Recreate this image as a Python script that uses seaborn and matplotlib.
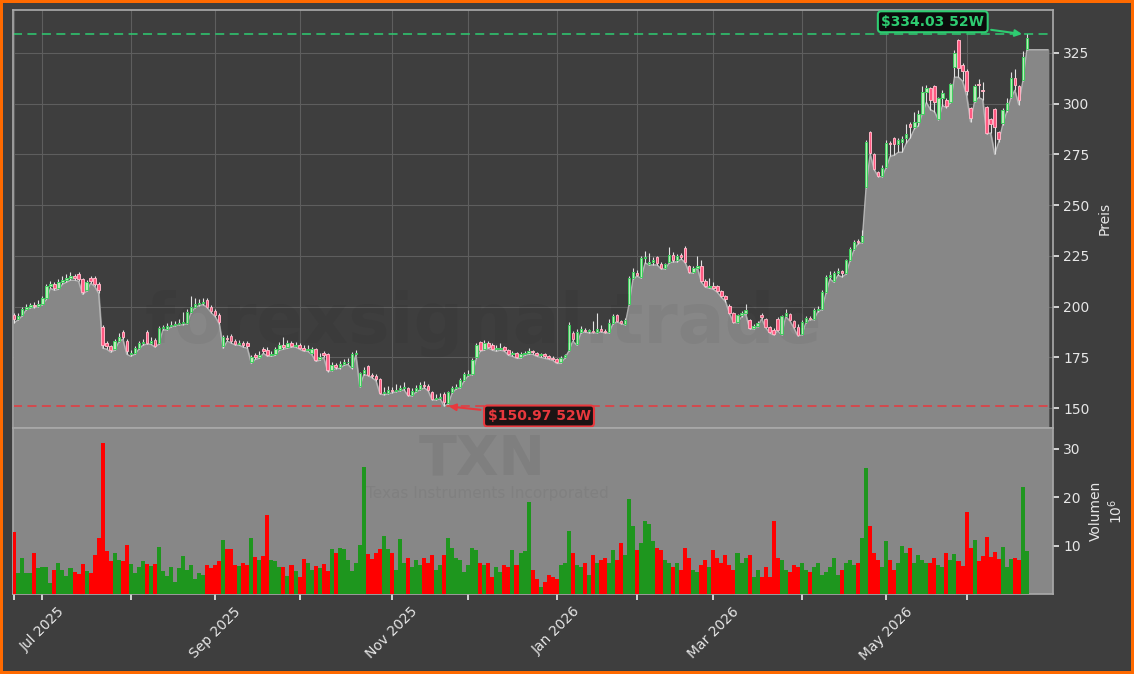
import numpy as np
import pandas as pd
import matplotlib
matplotlib.use("Agg")
import matplotlib.pyplot as plt
import seaborn as sns

# Kursdaten TXN (tägliche Kerzen, ca. 52 Wochen), Volumen in Mio.
opens = [
    196, 194, 196, 199, 200, 201, 200.5, 201.5, 204, 210,
    211, 209, 212, 213, 214, 215, 216, 213.5, 208, 214,
    214, 211, 190, 182, 180.5, 179, 183, 187.5, 183, 176.5,
    177, 179.5, 182, 187.5, 182, 183.5, 182, 189.5, 189, 190.5,
    191, 191.5, 192, 192, 197.5, 200, 201.5, 202, 203, 200,
    198, 196, 180.5, 184.5, 185.5, 183, 181.5, 182, 182, 172.5,
    176, 175, 179, 178.5, 176, 176.5, 179, 181, 180, 182,
    180.5, 181, 179.5, 178.5, 177, 179, 174, 177, 176.5, 169,
    171, 170, 171.5, 172.5, 170, 176.5, 161, 167.5, 170.5, 166.5,
    166, 164.5, 157.5, 157.5, 159, 158.5, 159, 160, 160, 156.5,
    158.5, 159.5, 161.5, 161, 158, 154.5, 155, 157, 152.5, 158,
    160, 160.5, 164, 166.5, 167, 175, 182.5, 179, 182, 181,
    179, 179, 180, 178.5, 176.5, 177, 175, 176.5, 177, 178,
    177, 176, 176.5, 175.5, 174.5, 174, 172.5, 175, 178.5, 187,
    181.5, 187.5, 188.5, 188, 188, 187.5, 189, 188, 187.5, 192,
    196, 193, 191.5, 201.5, 214, 216.5, 214.5, 224, 221, 222,
    224.5, 221, 219, 222, 225.5, 223, 225.5, 229, 220, 217,
    219, 220, 212.5, 209.5, 210, 210, 207.5, 205, 200.5, 197,
    192.5, 196, 197, 193.5, 189.5, 190.5, 196, 194, 190, 188.5,
    194, 186.5, 195.5, 196.5, 193, 190, 186.5, 192.5, 194.5, 194,
    198.5, 199, 207, 214.5, 212.5, 216.5, 217.5, 216.5, 223, 228.5,
    232.5, 232, 259, 286, 275, 266.5, 264.5, 269, 280.5, 283,
    280, 281, 283, 290, 288.5, 291, 295, 305.5, 307.5, 308.5,
    292.5, 302.5, 302, 301, 318, 331.5, 319, 316, 298, 301.5,
    309.5, 306.5, 298.5, 292.5, 297.5, 286, 290.5, 297, 303, 312.5,
    308.5, 311.5, 327,
]
closes = [
    194, 195.5, 199, 200, 201, 200.5, 201.5, 204, 210, 211,
    209, 212, 213, 214, 215, 214, 213.5, 207, 212, 212.5,
    211, 208, 181, 180.5, 178.5, 183, 185, 185, 178, 177,
    179.5, 182, 182.5, 182, 183, 180.5, 189.5, 189.5, 190.5, 191,
    191.5, 192, 192, 197.5, 200, 201.5, 202, 202, 200, 198,
    196, 192.5, 185, 184, 183, 181.5, 182, 181, 180.5, 175,
    175, 176, 178, 176, 176.5, 179, 181, 180, 182, 180.5,
    181, 179.5, 178.5, 179, 179, 173.5, 175, 176, 169, 171,
    170, 171.5, 172.5, 172.5, 176.5, 177, 167.5, 169, 166.5, 166,
    164.5, 157.5, 157.5, 159, 158.5, 159, 160, 160, 156.5, 158.5,
    160, 161.5, 161, 159, 154.5, 155, 155.5, 153, 158, 160,
    160.5, 164, 167, 167, 173.5, 181, 178.5, 182, 180, 179,
    179, 179.5, 178.5, 176.5, 176.5, 175, 176.5, 177, 178, 177.5,
    176, 176, 175.5, 174.5, 174, 172.5, 174.5, 176, 191, 184,
    187.5, 189, 188, 188, 187.5, 189, 188, 187.5, 192, 195.5,
    193, 192, 193.5, 214, 217, 215.5, 224, 224, 222, 223,
    221.5, 219, 221, 225.5, 223, 225, 224.5, 222, 217, 219,
    220, 212.5, 210, 210, 209, 207.5, 205, 203.5, 197, 192.5,
    196, 197, 198.5, 189.5, 190.5, 192, 195, 190, 187.5, 186.5,
    188.5, 195.5, 197, 193.5, 190, 186, 192.5, 194.5, 194, 198.5,
    199, 207, 214.5, 215.5, 216.5, 217.5, 216.5, 223, 228.5, 232,
    232, 235, 281, 275.5, 268, 264.5, 268.5, 280.5, 280, 280,
    282, 282.5, 285, 288.5, 291, 295, 305.5, 307.5, 302, 301,
    302.5, 305, 299, 309.5, 325, 317.5, 316, 306, 293, 308.5,
    309, 306, 285.5, 290, 288.5, 282.5, 297, 300.5, 312.5, 309,
    302, 323, 332.5,
]
highs = [
    197, 197, 200, 201.5, 202, 202.5, 203, 205, 211, 212.5,
    212, 213.5, 215, 216, 217, 216, 217, 214, 213, 215,
    215, 212, 191, 183, 181, 184, 187, 188.5, 184, 178.5,
    180.5, 183, 184, 188.5, 185, 184.5, 190.5, 191, 192, 193,
    193, 194, 197.5, 199, 205, 204, 203.5, 204, 204, 201,
    199, 197, 186, 186, 186.5, 184, 183.5, 183, 183, 176,
    177, 178, 180, 180, 178, 180, 182.5, 185, 183.5, 183,
    182.5, 182, 181, 181, 180, 179.5, 177, 178, 177, 172.5,
    172, 173, 174, 174.5, 177.5, 178.5, 168, 170, 171, 167.5,
    167, 165, 160.5, 161, 160.5, 162, 161.5, 163, 160.5, 160,
    161.5, 163, 163.5, 162, 158.5, 157, 157.5, 158, 158.5, 161,
    162, 165, 168, 169, 174.5, 182, 183, 183.5, 183, 182,
    181, 182, 180.5, 179, 178, 177.5, 177.5, 178, 179.5, 178.5,
    177.5, 177, 177, 176, 175.5, 174.5, 175.5, 176.5, 192.5, 188,
    189, 190.5, 189.5, 189, 193, 197, 191, 189, 194, 196.5,
    196.5, 193.5, 194.5, 215, 219, 218, 225, 227.5, 226.5, 224.5,
    225, 222, 221.5, 229.5, 227, 226, 226.5, 230, 220.5, 220,
    225, 223, 213.5, 214, 212, 210.5, 208, 205.5, 201.5, 197.5,
    196.5, 198, 201.5, 194, 191.5, 193, 197, 194.5, 190.5, 189.5,
    195, 196, 199, 197, 193.5, 191.5, 193.5, 195.5, 195.5, 199.5,
    200.5, 208, 215.5, 217.5, 217.5, 219, 218, 223.5, 229.5, 233,
    233.5, 237.5, 282, 286.5, 275.5, 267, 269.5, 282, 281.5, 283.5,
    283, 284, 290, 291, 296, 297, 308.5, 309, 308, 309,
    303, 306.5, 302.5, 310, 326.5, 332, 320, 317, 298.5, 309.5,
    312, 310.5, 299, 293, 298, 286.5, 298, 302.5, 315.5, 317,
    309, 326, 334.03,
]
lows = [
    192, 193.5, 195.5, 198.5, 199.5, 199.5, 200, 201, 203.5, 209,
    208, 208.5, 211, 212, 213, 213, 212.5, 206, 207.5, 211.5,
    210, 206.5, 179.5, 179, 177.5, 178.5, 182.5, 184, 176.5, 175.5,
    176.5, 179, 181, 181.5, 181.5, 180, 181.5, 188.5, 188.5, 190,
    190.5, 191, 191, 191.5, 197, 199.5, 200.5, 201, 199.5, 197,
    195, 191.5, 179.5, 183, 182, 181, 181, 180, 179.5, 172,
    174, 174.5, 177, 175.5, 175.5, 176, 178.5, 179, 179.5, 180,
    180, 179, 178, 178, 176.5, 173, 173.5, 175, 168, 168.5,
    169.5, 169.5, 171, 171.5, 169.5, 176, 160.5, 166.5, 166, 165,
    163.5, 157, 156.5, 157, 157.5, 158, 158.5, 159, 156, 156,
    158, 159, 160, 158.5, 154, 154, 154.5, 150.97, 152, 157.5,
    159.5, 160, 163.5, 166, 166.5, 174.5, 178, 178.5, 179.5, 178.5,
    178, 178.5, 178, 176, 175.5, 174.5, 174.5, 176, 176.5, 176.5,
    175.5, 175, 174.5, 174, 173.5, 172, 172, 174.5, 178, 183,
    181, 187, 187.5, 187, 187, 187, 187.5, 187, 187, 191.5,
    192.5, 191.5, 191, 201, 213.5, 215, 214, 221.5, 220.5, 220.5,
    220.5, 218.5, 218.5, 221.5, 222, 222, 223.5, 221.5, 216.5, 216.5,
    219, 212, 209.5, 209, 208.5, 207, 204.5, 202.5, 196.5, 192,
    192, 195, 196.5, 189, 189, 190, 194, 189.5, 187, 186,
    188, 186, 195, 193, 189.5, 185.5, 186, 192, 193.5, 193.5,
    197.5, 198.5, 206.5, 213.5, 212, 215.5, 214.5, 216, 222.5, 228,
    231, 231.5, 258.5, 275, 267.5, 264, 264, 268.5, 274, 274.5,
    276, 276, 280.5, 283, 287.5, 289, 295, 300.5, 297, 296,
    292, 299, 298, 300.5, 313, 313, 311, 304, 291, 301,
    303, 302, 285, 285.5, 275, 281, 289.5, 296, 302.5, 306.5,
    299.5, 311, 326.5,
]
volumes = [
    12.8, 4.3, 7.4, 4.4, 4.3, 8.4, 5.3, 5.6, 5.5, 2.3,
    5.0, 6.5, 5.0, 3.8, 5.3, 4.6, 4.2, 6.2, 4.8, 4.4,
    8.0, 11.5, 31.2, 8.9, 6.8, 8.4, 7.0, 6.8, 10.1, 6.3,
    4.3, 5.5, 6.8, 6.3, 5.8, 6.2, 9.8, 4.8, 3.8, 5.5,
    2.4, 5.3, 7.8, 5.0, 6.0, 3.0, 4.4, 4.0, 6.0, 5.3,
    6.0, 6.8, 11.1, 9.2, 9.4, 6.0, 5.8, 6.4, 6.0, 11.5,
    7.7, 7.0, 7.8, 16.3, 7.0, 6.8, 5.5, 5.5, 3.8, 6.0,
    4.8, 3.6, 7.3, 6.5, 5.0, 5.8, 5.3, 6.2, 4.8, 9.4,
    8.4, 9.6, 9.2, 7.0, 4.8, 6.4, 10.1, 26.2, 8.2, 7.3,
    8.4, 9.4, 12.0, 9.2, 8.4, 5.0, 11.3, 6.5, 7.5, 5.5,
    7.0, 6.0, 7.5, 6.5, 8.0, 5.0, 6.0, 8.0, 11.5, 9.5,
    7.5, 7.0, 4.5, 6.0, 9.5, 9.0, 6.5, 6.0, 6.5, 3.5,
    5.5, 4.5, 6.0, 5.5, 9.0, 6.0, 8.5, 8.8, 19.0, 5.0,
    3.0, 1.5, 2.5, 4.0, 3.5, 3.0, 6.0, 6.5, 13.0, 8.5,
    6.0, 5.5, 6.5, 4.0, 8.0, 6.5, 7.0, 7.5, 6.5, 9.0,
    7.0, 10.5, 8.0, 19.7, 14.0, 9.0, 10.5, 15.0, 14.5, 11.0,
    9.5, 9.0, 7.0, 6.5, 5.5, 6.5, 5.0, 9.5, 7.5, 5.0,
    4.5, 6.0, 7.0, 5.5, 9.0, 7.5, 6.5, 8.0, 6.0, 5.0,
    8.5, 6.5, 7.5, 8.0, 3.5, 5.0, 3.5, 5.5, 3.5, 15.0,
    7.5, 7.0, 5.0, 4.5, 6.0, 5.5, 6.5, 5.0, 4.5, 5.5,
    6.5, 4.0, 4.5, 5.5, 7.5, 4.0, 5.0, 6.5, 7.0, 6.0,
    6.5, 11.5, 26.0, 14.0, 8.5, 7.0, 5.5, 11.0, 7.0, 5.0,
    6.5, 10.0, 8.5, 9.5, 6.5, 8.0, 7.0, 6.5, 6.5, 7.5,
    6.0, 5.5, 8.5, 7.0, 8.2, 6.9, 5.8, 16.9, 9.5, 11.1,
    6.9, 7.8, 11.8, 7.7, 8.7, 7.3, 9.7, 5.5, 7.3, 7.4,
    7.0, 22.1, 8.9,
]
high_52w = 334.03
low_52w = 150.97
ticker = "TXN"
company = "Texas Instruments Incorporated"

# Handelstage (NYSE-Feiertage ausgenommen)
holidays = ["2025-07-04", "2025-09-01", "2025-11-27", "2025-12-25", "2026-01-01",
            "2026-01-19", "2026-02-16", "2026-04-03", "2026-05-25", "2026-06-19"]
n = len(closes)
dates = pd.bdate_range("2025-06-20", periods=n, freq="C", holidays=holidays)

df = pd.DataFrame({"Open": opens, "High": highs, "Low": lows, "Close": closes,
                   "Volume": volumes}, index=dates)
df["idx"] = np.arange(n)
df["Richtung"] = np.where(df["Close"] >= df["Open"], "up", "down")

bg = "#3e3e3e"
txt = "#e6e6e6"
sns.set_theme(style="dark", rc={
    "figure.facecolor": bg, "axes.facecolor": bg, "axes.edgecolor": "#a8a8a8",
    "grid.color": "#5e5e5e", "text.color": txt, "xtick.color": txt,
    "ytick.color": txt, "axes.labelcolor": txt,
})
plt.rcParams["font.family"] = ["DejaVu Sans"]

fig = plt.figure(figsize=(11.34, 6.74), dpi=100)
fig.patch.set_edgecolor("#ff6a00")
fig.patch.set_linewidth(4)
ax = fig.add_axes([0.0115, 0.365, 0.917, 0.6205])
axv = fig.add_axes([0.0115, 0.1187, 0.917, 0.2463], sharex=ax)

x_end = n + 5.5

# Fläche unter den Tiefs
x_fill = np.r_[df["idx"].values, n + 4.3]
y_fill = np.r_[df["Low"].values, df["Low"].values[-1]]
ax.fill_between(x_fill, y_fill, 0, color="#878787", zorder=1)
sns.lineplot(x=x_fill, y=y_fill, ax=ax, color="#b4b4b4", lw=1, zorder=2)

# Kerzen
up = df[df["Richtung"] == "up"]
dn = df[df["Richtung"] == "down"]
ax.vlines(df["idx"], df["Low"], df["High"], color="#e2e2e2", lw=0.8, zorder=3)
ax.bar(up["idx"], (up["Close"] - up["Open"]).clip(lower=0.4), bottom=up["Open"],
       width=0.6, color="#b8ecb8", edgecolor="#3fcf5f", lw=0.7, zorder=4)
ax.bar(dn["idx"], dn["Open"] - dn["Close"], bottom=dn["Close"],
       width=0.6, color="#ff5a82", edgecolor="#ffb3c4", lw=0.7, zorder=4)

# 52-Wochen-Linien und Beschriftungen
green = "#2ecc71"
red = "#e8383d"
ax.axhline(high_52w, color=green, ls=(0, (5, 3)), lw=1.3, alpha=0.85, zorder=2)
ax.axhline(low_52w, color=red, ls=(0, (5, 3)), lw=1.3, alpha=0.85, zorder=2)
i_hi = int(np.argmax(df["High"].values))
i_lo = int(np.argmin(df["Low"].values))
ax.annotate(f"${high_52w:.2f} 52W", xy=(i_hi - 0.5, high_52w), xytext=(228.6, 340.3),
            ha="center", va="center", color=green, fontsize=10, fontweight="bold",
            bbox=dict(boxstyle="round,pad=0.25", fc="#0c0c0c", ec=green, lw=1.5),
            arrowprops=dict(arrowstyle="-|>", color=green, lw=1.5, mutation_scale=10),
            zorder=6)
ax.annotate(f"${low_52w:.2f} 52W", xy=(i_lo + 0.5, low_52w), xytext=(130.6, 146.1),
            ha="center", va="center", color=red, fontsize=10, fontweight="bold",
            bbox=dict(boxstyle="round,pad=0.25", fc="#1c1414", ec=red, lw=1.5),
            arrowprops=dict(arrowstyle="-|>", color=red, lw=1.5, mutation_scale=10),
            zorder=6)

# Volumen
axv.set_facecolor("#878787")
sns.barplot(x=df["idx"], y=df["Volume"], hue=df["Richtung"], ax=axv,
            palette={"up": "#1e961e", "down": "#ff0000"}, hue_order=["up", "down"],
            native_scale=True, dodge=False, width=1.0, linewidth=0, legend=False,
            saturation=1, zorder=3)

# Achsen
month_start = df.groupby([df.index.year, df.index.month])["idx"].min().values
month_dates = df.index[month_start]
labels = [d.strftime("%b %Y") if d.month % 2 == 1 else "" for d in month_dates]

ax.set_xlim(-0.3, x_end)
ax.set_ylim(140.2, 346.2)
ax.set_yticks([150, 175, 200, 225, 250, 275, 300, 325])
ax.yaxis.tick_right()
ax.yaxis.set_label_position("right")
ax.set_ylabel("Preis", fontsize=10, labelpad=6)
ax.set_xticks(month_start)
ax.tick_params(axis="x", length=0, labelbottom=False)
ax.tick_params(axis="y", length=4, labelsize=10, direction="out")
ax.grid(True, color="#5e5e5e", lw=0.8)
ax.set_xlabel("")

axv.set_ylim(0, 34.3)
axv.set_yticks([10, 20, 30])
axv.yaxis.tick_right()
axv.yaxis.set_label_position("right")
axv.set_ylabel("Volumen\n$10^6$", fontsize=10, labelpad=6)
axv.set_xticks(month_start)
axv.set_xticklabels(labels, rotation=45, ha="center", fontsize=10)
axv.tick_params(axis="x", length=4, direction="out", bottom=True)
axv.tick_params(axis="y", length=4, labelsize=10, direction="out", right=True)
axv.set_xlabel("")
axv.grid(False)
axv.set_xlim(-0.3, x_end)
for a in (ax, axv):
    for s in a.spines.values():
        s.set_color("#a8a8a8")

# Wasserzeichen
fig.text(0.426, 0.521, "forexsignal.trade", fontsize=50, fontweight="bold",
         color="black", alpha=0.045, ha="center", va="center", zorder=10)
fig.text(0.425, 0.318, ticker, fontsize=40, fontweight="bold",
         color="black", alpha=0.06, ha="center", va="center", zorder=10)
fig.text(0.4295, 0.268, company, fontsize=11,
         color="black", alpha=0.05, ha="center", va="center", zorder=10)

fig.savefig("out.png", dpi=100, facecolor=fig.get_facecolor(),
            edgecolor=fig.get_edgecolor())
